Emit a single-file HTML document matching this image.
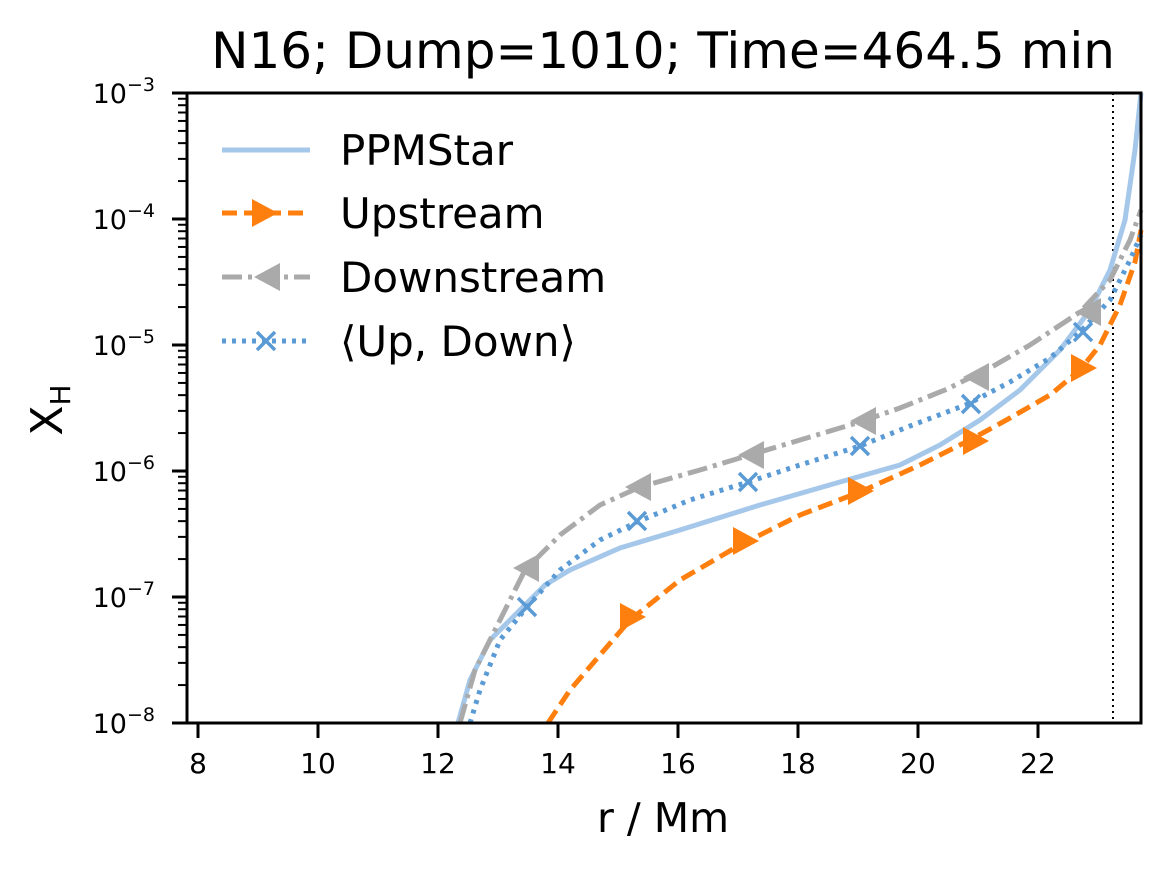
<!DOCTYPE html>
<html><head><meta charset="utf-8"><style>
body{margin:0;background:#fff}
svg{display:block;font-family:"DejaVu Sans","Liberation Sans",sans-serif}
</style></head><body>
<svg id="s" width="1170" height="870" viewBox="0 0 1170 870" xmlns="http://www.w3.org/2000/svg">
<rect width="1170" height="870" fill="#fff"/>
<text x="663" y="68" font-size="50" text-anchor="middle">N16; Dump=1010; Time=464.5 min</text>
<text x="663" y="832" font-size="41" text-anchor="middle">r / Mm</text>
<text transform="translate(62,410) rotate(-90)" font-size="44" text-anchor="middle">X<tspan font-size="28" dy="8">H</tspan></text>
<g id="ax"></g>
<line x1="1113" y1="93" x2="1113" y2="723" stroke="#000" stroke-width="2" stroke-dasharray="2,4"/>
<g fill="none" stroke-width="5">
<polyline stroke="#a5c8ea" points="458,723 470,680 490,640 520,610 545,585 570,570 620,548 680,530 760,505 840,482 900,465 940,445 980,420 1020,390 1060,350 1090,310 1110,270 1125,220 1135,150 1141,93"/>
<polyline stroke="#ff7f0e" stroke-dasharray="15,7" points="548,723 570,690 600,655 630,620 680,580 740,545 800,515 860,492 920,465 970,440 1010,418 1050,395 1080,370 1100,345 1120,305 1135,262 1141,230"/>
<polyline stroke="#aaaaaa" stroke-dasharray="20,6,4,6" points="460,723 475,670 500,620 525,570 560,535 600,505 640,487 700,470 750,455 800,440 860,422 900,408 945,390 990,368 1030,345 1080,312 1110,280 1130,240 1141,210"/>
<polyline stroke="#5b9bd5" stroke-dasharray="4,6" points="470,723 480,690 500,640 527,607 560,570 600,540 637,522 690,500 748,482 800,465 860,446 910,426 968,404 1010,382 1050,358 1080,332 1110,300 1130,260 1141,235"/>
</g>
<g id="mk"></g>
<g font-size="42">
<line x1="222" y1="150" x2="310" y2="150" stroke="#a5c8ea" stroke-width="5"/>
<text x="340" y="165">PPMStar</text>
<line x1="222" y1="213" x2="310" y2="213" stroke="#ff7f0e" stroke-width="5" stroke-dasharray="15,7"/>
<polygon points="252,199 278,213 252,227" fill="#ff7f0e"/>
<text x="340" y="228">Upstream</text>
<line x1="222" y1="277" x2="310" y2="277" stroke="#aaa" stroke-width="5" stroke-dasharray="20,6,4,6"/>
<polygon points="280,263 254,277 280,291" fill="#aaa"/>
<text x="340" y="292">Downstream</text>
<line x1="222" y1="341" x2="310" y2="341" stroke="#5b9bd5" stroke-width="5" stroke-dasharray="4,6"/>
<path d="M257,332 l18,18 M275,332 l-18,18" stroke="#5b9bd5" stroke-width="3.5"/>
<text x="340" y="356">⟨Up, Down⟩</text>
</g>
<rect x="187" y="93" width="954" height="630" fill="none" stroke="#000" stroke-width="3"/>
</svg>
<script>
var ns="http://www.w3.org/2000/svg",ax=document.getElementById('ax'),mk=document.getElementById('mk');
function el(t,a,p,txt){var e=document.createElementNS(ns,t);for(var k in a)e.setAttribute(k,a[k]);if(txt)e.innerHTML=txt;(p||ax).appendChild(e);return e;}
for(var r=8;r<=22;r+=2){var x=198+(r-8)*60;el('line',{x1:x,y1:723,x2:x,y2:738,stroke:'#000','stroke-width':3});el('text',{x:x,y:773,'font-size':28,'text-anchor':'middle'},null,''+r);}
for(var d=0;d<=5;d++){var y=723-d*126;el('line',{x1:172,y1:y,x2:187,y2:y,stroke:'#000','stroke-width':3});
el('text',{x:155,y:y+10,'font-size':27,'text-anchor':'end'},null,'10<tspan dy="-12" font-size="19">\u2212'+(8-d)+'</tspan>');
if(d<5)for(var k=2;k<10;k++){var yy=y-Math.log10(k)*126;el('line',{x1:178,y1:yy,x2:187,y2:yy,stroke:'#000','stroke-width':2});}}
[[632,617],[745,541],[860,491],[975,441],[1083,368]].forEach(function(p){el('polygon',{points:(p[0]-12)+','+(p[1]-14)+' '+(p[0]+14)+','+p[1]+' '+(p[0]-12)+','+(p[1]+14),fill:'#ff7f0e'},mk);});
[[525,568],[637,487],[750,455],[862,421],[975,377],[1087,312]].forEach(function(p){el('polygon',{points:(p[0]+14)+','+(p[1]-14)+' '+(p[0]-12)+','+p[1]+' '+(p[0]+14)+','+(p[1]+14),fill:'#aaa'},mk);});
[[527,607],[637,521],[748,482],[860,446],[971,404],[1083,332]].forEach(function(p){el('path',{d:'M'+(p[0]-9)+','+(p[1]-9)+' l18,18 M'+(p[0]+9)+','+(p[1]-9)+' l-18,18',stroke:'#5b9bd5','stroke-width':3.5},mk);});
</script>
</body></html>
